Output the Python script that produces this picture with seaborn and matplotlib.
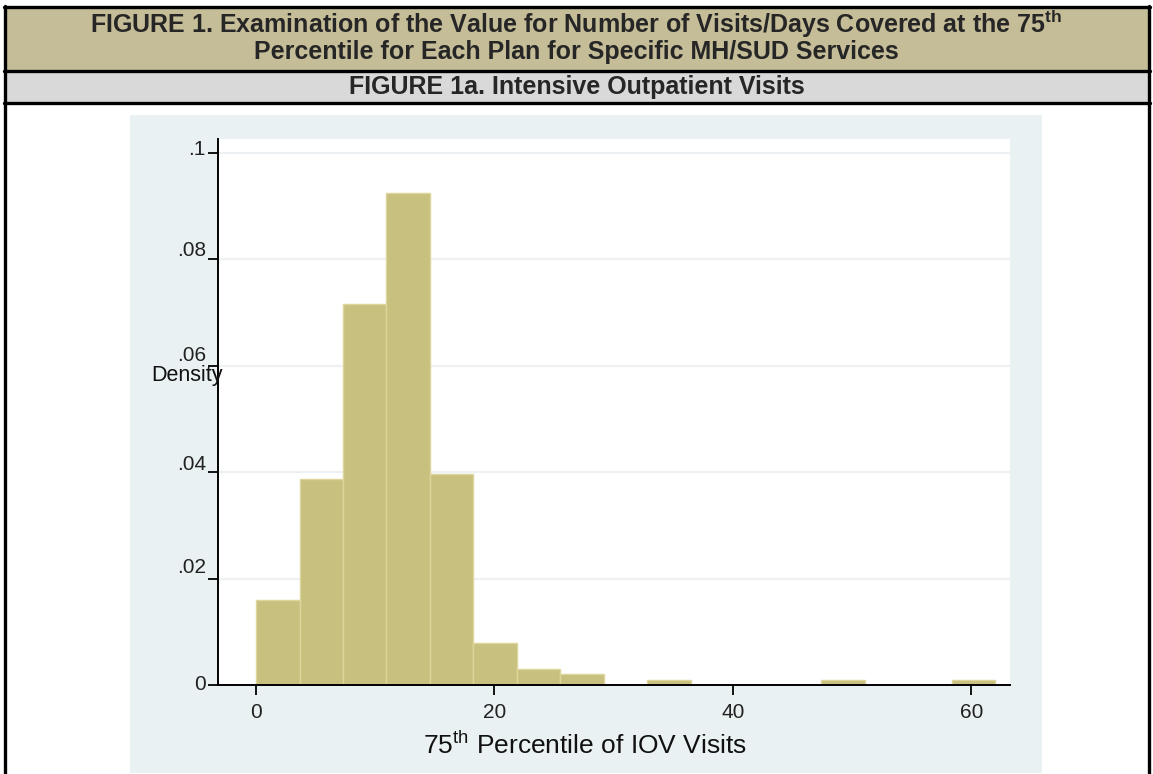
import numpy as np
import pandas as pd
import matplotlib
matplotlib.use("Agg")
import matplotlib.pyplot as plt
import matplotlib.patches as mpatches
import matplotlib.lines as mlines
from matplotlib.transforms import ScaledTranslation
import seaborn as sns

# histogram: 17 equal bins over 0..62, counts per bin
bin_lo = 0
bin_hi = 62
n_bins = 17
bin_counts = [16, 39, 72, 93, 40, 8, 3, 2, 0, 1, 0, 0, 0, 1, 0, 0, 1]

x_ticks = [0, 20, 40, 60]
y_ticks = [0, 0.02, 0.04, 0.06, 0.08, 0.1]
y_tick_labels = ["0", ".02", ".04", ".06", ".08", ".1"]

title_line1 = r"FIGURE 1. Examination of the Value for Number of Visits/Days Covered at the 75$^{\mathbf{th}}$"
title_line2 = "Percentile for Each Plan for Specific MH/SUD Services"
subtitle = "FIGURE 1a. Intensive Outpatient Visits"
x_title = r"75$^{\mathrm{th}}$ Percentile of IOV Visits"
y_title = "Density"

edges = np.linspace(bin_lo, bin_hi, n_bins + 1)
centers = (edges[:-1] + edges[1:]) / 2
df = pd.DataFrame({"visits": centers, "n": bin_counts})

sns.set_theme(style="white")
plt.rcParams["font.family"] = ["Liberation Sans", "DejaVu Sans"]
plt.rcParams["mathtext.fontset"] = "custom"
plt.rcParams["mathtext.rm"] = "Liberation Sans"
plt.rcParams["mathtext.bf"] = "Liberation Sans:bold"

W, H = 1153, 774
fig = plt.figure(figsize=(W / 100, H / 100), dpi=100)
fig.patch.set_facecolor("white")


def px_x(x):
    return x / W


def px_y(y):
    return 1 - y / H


# table cells of the report
fig.patches.append(mpatches.Rectangle((px_x(5), px_y(71)), px_x(1144), 64 / H,
                                      transform=fig.transFigure, facecolor="#c4bd97",
                                      edgecolor="none", zorder=0))
fig.patches.append(mpatches.Rectangle((px_x(5), px_y(103)), px_x(1144), 32 / H,
                                      transform=fig.transFigure, facecolor="#d9d9d9",
                                      edgecolor="none", zorder=0))
# stata graph region
fig.patches.append(mpatches.Rectangle((px_x(130), px_y(773)), px_x(912), 658 / H,
                                      transform=fig.transFigure, facecolor="#eaf1f3",
                                      edgecolor="none", zorder=0))

for y in [7, 71, 103]:
    fig.lines.append(mlines.Line2D([px_x(4), px_x(1150)], [px_y(y), px_y(y)],
                                   transform=fig.transFigure, color="black", lw=2.4))
for x in [5, 1149]:
    fig.lines.append(mlines.Line2D([px_x(x), px_x(x)], [px_y(6), 0],
                                   transform=fig.transFigure, color="black", lw=2.4))

fig.text(0.5, px_y(24), title_line1, ha="center", va="center", fontsize=18,
         fontweight="bold")
fig.text(0.5, px_y(52), title_line2, ha="center", va="center", fontsize=18,
         fontweight="bold")
fig.text(0.5, px_y(87), subtitle, ha="center", va="center", fontsize=18,
         fontweight="bold")

ax = fig.add_axes([px_x(218), px_y(685), (1010 - 218) / W, (685 - 139) / H])
ax.set_zorder(3)
ax.set_facecolor("white")

sns.histplot(data=df, x="visits", weights="n", bins=n_bins,
             binrange=(bin_lo, bin_hi), stat="density",
             color="#c8c07e", alpha=1, edgecolor="#ddd59c", linewidth=1, ax=ax,
             zorder=3)

ax.set_xlim(-3.19, 63.25)
ax.set_ylim(0, 0.1026)
ax.set_xticks(x_ticks)
ax.set_xticklabels([str(t) for t in x_ticks])
ax.set_yticks(y_ticks)
ax.set_yticklabels(y_tick_labels)

for y in y_ticks[1:]:
    ax.axhline(y, color="#edf1f4", lw=1.6, zorder=1)

for side in ["top", "right"]:
    ax.spines[side].set_visible(False)
for side in ["left", "bottom"]:
    ax.spines[side].set_color("black")
    ax.spines[side].set_linewidth(1.4)
    ax.spines[side].set_zorder(5)

ax.tick_params(axis="both", which="major", direction="out", length=7.2, width=1.3,
               color="black", labelsize=15, labelcolor="#222222",
               left=True, bottom=True)
ax.tick_params(axis="y", pad=1.5)
ax.tick_params(axis="x", pad=6)

# stata draws most y labels a little above their ticks
y_label_raise = [3, 13, 10, 12, 11, 5]
for lab, dy in zip(ax.get_yticklabels(), y_label_raise):
    lab.set_transform(lab.get_transform() +
                      ScaledTranslation(0, dy / 100, fig.dpi_scale_trans))

# axis titles: x title centred on the graph region, y title horizontal
fig.text(px_x(585), px_y(745), x_title, ha="center", va="center", fontsize=19,
         color="#111111")
fig.text(px_x(151), px_y(376), y_title, ha="left", va="center", fontsize=15.5,
         color="#111111", zorder=10)
ax.set_xlabel("")
ax.set_ylabel("")

fig.savefig("out.png", dpi=100, facecolor=fig.get_facecolor())
